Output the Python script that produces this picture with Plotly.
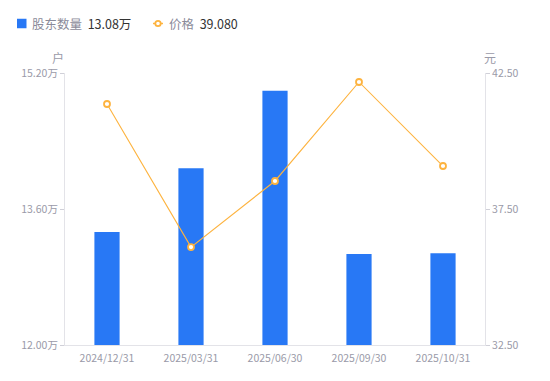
import plotly.graph_objects as go

categories = ["2024/12/31", "2025/03/31", "2025/06/30", "2025/09/30", "2025/10/31"]
holders = [13.33, 14.08, 14.99, 13.07, 13.08]  # 万户
prices = [41.36, 36.10, 38.53, 42.17, 39.080]
left_ticks = [12.00, 13.60, 15.20]
left_ticktext = ["12.00万", "13.60万", "15.20万"]
right_ticks = [32.50, 37.50, 42.50]
right_ticktext = ["32.50", "37.50", "42.50"]

BLUE = "#2878F5"
ORANGE = "#FDB33F"
FONT = "Noto Sans CJK SC"
TICKC = "#9a9aa8"

# page has default 8px body margin; compensate
W, H = 542, 373
L, R, T, B = 57, 65, 65, 36
PW, PH = W - L - R, H - T - B

def px(x):
    return (x - L) / PW

def py(y):
    return (H - B - y) / PH

fig = go.Figure()
fig.add_trace(go.Bar(x=categories, y=holders, marker=dict(color=BLUE, line=dict(width=0)),
                     width=0.3, showlegend=False, yaxis="y"))
fig.add_trace(go.Scatter(x=categories, y=prices, mode="lines+markers", yaxis="y2",
                         line=dict(color=ORANGE, width=1.1),
                         marker=dict(symbol="circle", size=6, color="white",
                                     line=dict(color=ORANGE, width=1.8)),
                         showlegend=False))

fig.update_layout(
    width=W, height=H,
    hovermode=False,
    margin=dict(l=L, r=R, t=T, b=B, autoexpand=False),
    plot_bgcolor="white", paper_bgcolor="white",
    font=dict(family=FONT, size=11, color=TICKC),
    xaxis=dict(showgrid=False, showline=True, linecolor="#e3e3e8", linewidth=1,
               ticks="", ticklabelstandoff=3,
               tickfont=dict(size=10.5, color=TICKC), zeroline=False),
    yaxis=dict(range=[12.0, 15.2], tickvals=left_ticks, ticktext=left_ticktext,
               showgrid=False, showline=True, linecolor="#e3e3e8", linewidth=1,
               ticks="outside", ticklen=4, tickcolor="#d0d0d8",
               tickfont=dict(size=10.5, color=TICKC), zeroline=False),
    yaxis2=dict(range=[32.5, 42.5], tickvals=right_ticks, ticktext=right_ticktext,
                overlaying="y", side="right",
                showgrid=False, showline=True, linecolor="#e3e3e8", linewidth=1,
                ticks="outside", ticklen=4, tickcolor="#d0d0d8",
                tickfont=dict(size=10.5, color=TICKC), zeroline=False),
)

# axis unit labels
fig.add_annotation(text="户", xref="paper", yref="paper", x=px(50), y=py(49),
                   showarrow=False, xanchor="center", yanchor="middle",
                   font=dict(size=12, color=TICKC))
fig.add_annotation(text="元", xref="paper", yref="paper", x=px(482), y=py(49),
                   showarrow=False, xanchor="center", yanchor="middle",
                   font=dict(size=12, color=TICKC))

# custom legend
LY = 15.5
fig.add_shape(type="rect", xref="paper", yref="paper",
              x0=px(9), x1=px(18.5), y0=py(LY + 4.75), y1=py(LY - 4.75),
              fillcolor=BLUE, line=dict(width=0), layer="above")
fig.add_annotation(text="<span style='color:#8a8a99'>股东数量</span>  <span style='color:#333'>13.08万</span>",
                   xref="paper", yref="paper", x=px(22), y=py(LY), showarrow=False,
                   xanchor="left", yanchor="middle", font=dict(size=12.5))
fig.add_shape(type="line", xref="paper", yref="paper", x0=px(145), x1=px(155), y0=py(LY), y1=py(LY),
              line=dict(color=ORANGE, width=1.5))
fig.add_shape(type="circle", xref="paper", yref="paper",
              x0=px(147.3), x1=px(152.7), y0=py(LY + 2.7), y1=py(LY - 2.7),
              fillcolor="white", line=dict(color=ORANGE, width=1.8), layer="above")
fig.add_annotation(text="<span style='color:#8a8a99'>价格</span>  <span style='color:#333'>39.080</span>",
                   xref="paper", yref="paper", x=px(159), y=py(LY), showarrow=False,
                   xanchor="left", yanchor="middle", font=dict(size=12.5))

fig.write_html("out.html")
